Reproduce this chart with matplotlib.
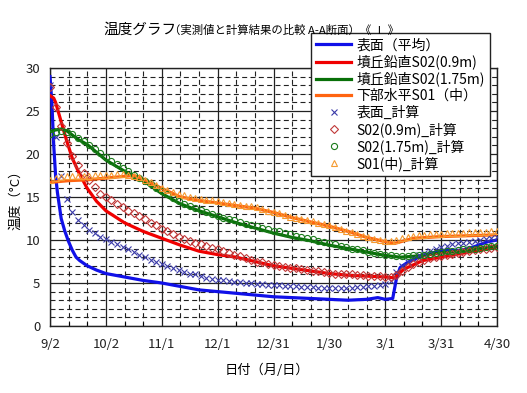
import matplotlib
matplotlib.use('Agg')
import matplotlib.pyplot as plt

plt.rcParams['font.family'] = ['Noto Sans CJK JP', 'DejaVu Sans']

# ---------------- data ----------------
tick_days = [0, 30, 60, 90, 120, 150, 180, 210, 240]
tick_labels = ['9/2', '10/2', '11/1', '12/1', '12/31', '1/30', '3/1', '3/31', '4/30']

# measured (lines)
blue_days = [0, 1, 2, 3, 4, 5, 6, 8, 10, 12, 14, 16, 20, 25, 30, 40, 50, 60, 70, 80, 90, 100,
             110, 120, 130, 140, 150, 160, 170, 176, 180, 184, 186, 188, 192, 196, 200, 205,
             210, 215, 220, 225, 230, 235, 240]
blue_vals = [29.0, 26.0, 21.0, 17.5, 15.5, 14.0, 12.5, 11.0, 9.8, 8.8, 8.0, 7.6, 7.0, 6.5, 6.1,
             5.7, 5.3, 5.0, 4.6, 4.2, 4.0, 3.8, 3.6, 3.4, 3.3, 3.2, 3.1, 3.0, 3.1, 3.3, 3.1, 3.2,
             5.5, 6.8, 7.4, 7.8, 8.2, 8.5, 8.7, 8.8, 8.8, 9.0, 9.4, 9.8, 10.0]

red_days = [0, 2, 3, 5, 7, 9, 12, 16, 20, 25, 30, 40, 50, 60, 70, 80, 90, 100, 110, 120, 130,
            140, 150, 160, 170, 180, 185, 187, 190, 195, 200, 210, 220, 230, 240]
red_vals = [26.8, 26.5, 26.0, 24.5, 23.0, 21.5, 19.5, 17.6, 16.0, 14.5, 13.4, 12.0, 11.0, 10.2,
            9.4, 8.7, 8.3, 8.0, 7.5, 7.0, 6.7, 6.4, 6.1, 5.9, 5.8, 5.7, 5.6, 6.0, 6.6, 7.1, 7.6,
            8.0, 8.4, 8.8, 9.2]

green_days = [0, 3, 6, 9, 12, 15, 20, 25, 30, 40, 50, 60, 70, 80, 90, 100, 110, 120, 130, 140,
              150, 160, 170, 180, 188, 195, 200, 210, 220, 230, 240]
green_vals = [22.6, 22.8, 22.9, 22.7, 22.2, 21.7, 21.1, 20.2, 19.3, 18.0, 16.9, 15.4, 14.2, 13.4,
              12.7, 12.0, 11.4, 10.8, 10.3, 9.9, 9.4, 9.0, 8.6, 8.2, 8.0, 8.1, 8.2, 8.5, 8.7,
              9.0, 9.3]

orange_days = [0, 10, 20, 30, 40, 45, 50, 60, 70, 80, 90, 100, 110, 120, 130, 140, 150, 160,
               170, 180, 185, 190, 195, 210, 225, 240]
orange_vals = [16.7, 16.9, 17.0, 17.2, 17.4, 17.5, 17.1, 16.0, 15.0, 14.6, 14.3, 14.0, 13.7,
               13.2, 12.6, 12.1, 11.6, 11.0, 10.3, 9.8, 9.6, 9.9, 10.2, 10.4, 10.5, 10.6]

# calculated (markers, every 3 days)
calc_days = list(range(0, 241, 3))
blue_calc = [28.0, 22.0, 17.5, 14.8, 13.2, 12.3, 11.7, 11.2, 10.8, 10.4, 10.1, 9.8, 9.5, 9.2,
             8.9, 8.6, 8.3, 8.0, 7.7, 7.5, 7.2, 7.0, 6.7, 6.5, 6.3, 6.1, 6.0, 5.8, 5.6, 5.5,
             5.4, 5.3, 5.2, 5.1, 5.1, 5.0, 5.0, 4.9, 4.9, 4.8, 4.8, 4.8, 4.7, 4.7, 4.6, 4.5,
             4.5, 4.5, 4.4, 4.4, 4.4, 4.4, 4.4, 4.4, 4.4, 4.5, 4.5, 4.6, 4.7, 4.8, 4.9, 5.2,
             6.3, 7.0, 7.5, 7.9, 8.2, 8.5, 8.7, 9.0, 9.2, 9.3, 9.5, 9.6, 9.7, 9.8, 9.9, 10.0,
             10.1, 10.2, 10.3]
red_calc = [27.8, 25.5, 23.2, 21.3, 19.8, 18.7, 17.8, 17.0, 16.2, 15.4, 15.0, 14.6, 14.2, 13.8,
            13.4, 13.1, 12.8, 12.4, 12.0, 11.7, 11.3, 11.0, 10.7, 10.4, 10.1, 9.9, 9.7, 9.5,
            9.3, 9.1, 8.9, 8.7, 8.5, 8.3, 8.1, 7.9, 7.7, 7.5, 7.4, 7.2, 7.1, 7.0, 6.9, 6.8,
            6.7, 6.6, 6.5, 6.4, 6.4, 6.3, 6.2, 6.1, 6.1, 6.0, 6.0, 5.9, 5.9, 5.8, 5.8, 5.8,
            5.7, 5.7, 5.9, 6.4, 6.9, 7.2, 7.5, 7.7, 7.9, 8.0, 8.1, 8.3, 8.4, 8.5, 8.6, 8.7,
            8.8, 8.9, 9.0, 9.1, 9.2]
green_calc = [22.3, 22.6, 22.7, 22.6, 22.3, 21.9, 21.5, 21.0, 20.6, 20.1, 19.6, 19.2, 18.8,
              18.4, 18.0, 17.6, 17.2, 16.9, 16.5, 16.1, 15.7, 15.3, 14.9, 14.5, 14.2, 13.9,
              13.7, 13.5, 13.2, 13.0, 12.8, 12.6, 12.4, 12.3, 12.1, 11.9, 11.7, 11.6, 11.4,
              11.3, 11.1, 11.0, 10.8, 10.7, 10.5, 10.4, 10.2, 10.1, 9.9, 9.8, 9.6, 9.5, 9.3,
              9.2, 9.0, 8.9, 8.8, 8.6, 8.5, 8.4, 8.3, 8.2, 8.1, 8.1, 8.1, 8.2, 8.3, 8.3, 8.4,
              8.5, 8.6, 8.7, 8.7, 8.8, 8.9, 9.0, 9.0, 9.1, 9.2, 9.3, 9.3]
orange_calc = [17.0, 17.2, 17.3, 17.4, 17.4, 17.5, 17.5, 17.5, 17.6, 17.6, 17.6, 17.6, 17.7,
               17.7, 17.6, 17.5, 17.3, 17.0, 16.7, 16.4, 16.1, 15.8, 15.6, 15.4, 15.2, 15.0,
               14.9, 14.8, 14.7, 14.6, 14.5, 14.4, 14.3, 14.2, 14.1, 14.0, 13.9, 13.8, 13.6,
               13.4, 13.2, 13.1, 12.9, 12.7, 12.6, 12.4, 12.3, 12.2, 12.0, 11.9, 11.7, 11.5,
               11.3, 11.1, 10.9, 10.7, 10.5, 10.3, 10.1, 10.0, 9.9, 9.9, 10.0, 10.2, 10.4,
               10.5, 10.6, 10.6, 10.7, 10.7, 10.7, 10.8, 10.8, 10.8, 10.8, 10.9, 10.9, 10.9,
               10.9, 11.0, 11.0]

line_labels = ['表面（平均）', '墳丘鉛直S02(0.9m)', '墳丘鉛直S02(1.75m)', '下部水平S01（中）']
calc_labels = ['表面_計算', 'S02(0.9m)_計算', 'S02(1.75m)_計算', 'S01(中)_計算']

# ---------------- figure ----------------
W, H = 527, 393
fig = plt.figure(figsize=(W / 100, H / 100), dpi=100)
ax = fig.add_axes([50 / W, 1 - 326 / H, 447 / W, 258 / H])

lw = 2.3
ax.plot(blue_days, blue_vals, color='#1010E8', lw=lw, label=line_labels[0], zorder=3)
ax.plot(red_days, red_vals, color='#F00000', lw=lw, label=line_labels[1], zorder=3)
ax.plot(green_days, green_vals, color='#087008', lw=lw, label=line_labels[2], zorder=3)
ax.plot(orange_days, orange_vals, color='#FF6410', lw=lw, label=line_labels[3], zorder=3)

ms = 4.4
mew = 0.8
ax.plot(calc_days, blue_calc, ls='none', marker='x', ms=ms, mew=mew, color='#3a3aa8',
        label=calc_labels[0], zorder=4)
ax.plot(calc_days, red_calc, ls='none', marker='D', ms=ms - 0.6, mew=mew, mfc='none',
        color='#c03838', label=calc_labels[1], zorder=4)
ax.plot(calc_days, green_calc, ls='none', marker='o', ms=ms, mew=mew, mfc='none',
        color='#1a7a1a', label=calc_labels[2], zorder=4)
ax.plot(calc_days, orange_calc, ls='none', marker='^', ms=ms, mew=mew, mfc='none',
        color='#f59a30', label=calc_labels[3], zorder=4)

ax.set_xlim(0, 240)
ax.set_ylim(0, 30)
ax.set_xticks(tick_days)
ax.set_xticklabels(tick_labels)
ax.set_xticks(range(0, 241, 10), minor=True)
ax.set_yticks(range(0, 31, 5))
ax.set_yticks(range(0, 31, 1), minor=True)

ax.grid(which='major', color='#222222', lw=0.9, ls='-')
ax.grid(which='minor', color='#222222', lw=0.8, ls=(0, (4.5, 3)))
ax.set_axisbelow(True)

ax.tick_params(axis='both', which='major', length=0, labelsize=9.5, colors='#222222')
ax.tick_params(axis='x', which='major', pad=9)
ax.tick_params(axis='y', which='major', pad=7)
ax.tick_params(axis='x', which='minor', direction='in', length=3, width=0.8)
ax.tick_params(axis='y', which='minor', length=0)
for s in ax.spines.values():
    s.set_color('#222222')
    s.set_linewidth(1.0)

ax.set_xlabel('日付（月/日）', fontsize=9.5)
ax.xaxis.set_label_coords((267 - 50) / 447, -(370 - 326) / 258)
ax.xaxis.label.set_va('center')
ax.set_ylabel('温度（°C）', fontsize=9.5)
ax.yaxis.set_label_coords((16 - 50) / 447, 0.5)
ax.yaxis.label.set_va('center')

fig.text(103 / W, 1 - 34 / H, '温度グラフ', fontsize=10.5, va='baseline', ha='left')
fig.text(169 / W, 1 - 34 / H, '（実測値と計算結果の比較 A-A断面）《 Ⅰ 》', fontsize=8.2,
         va='baseline', ha='left')

leg = ax.legend(loc='upper left', bbox_to_anchor=(311 / W, 1 - 33 / H),
                bbox_transform=fig.transFigure, borderaxespad=0, fontsize=10,
                labelspacing=0.17, handlelength=2.5, handletextpad=0.4, borderpad=0.38,
                fancybox=False, framealpha=1, edgecolor='#222222', numpoints=1)
leg.get_frame().set_linewidth(1.0)
leg.set_zorder(10)

fig.savefig('out.png', dpi=100)
